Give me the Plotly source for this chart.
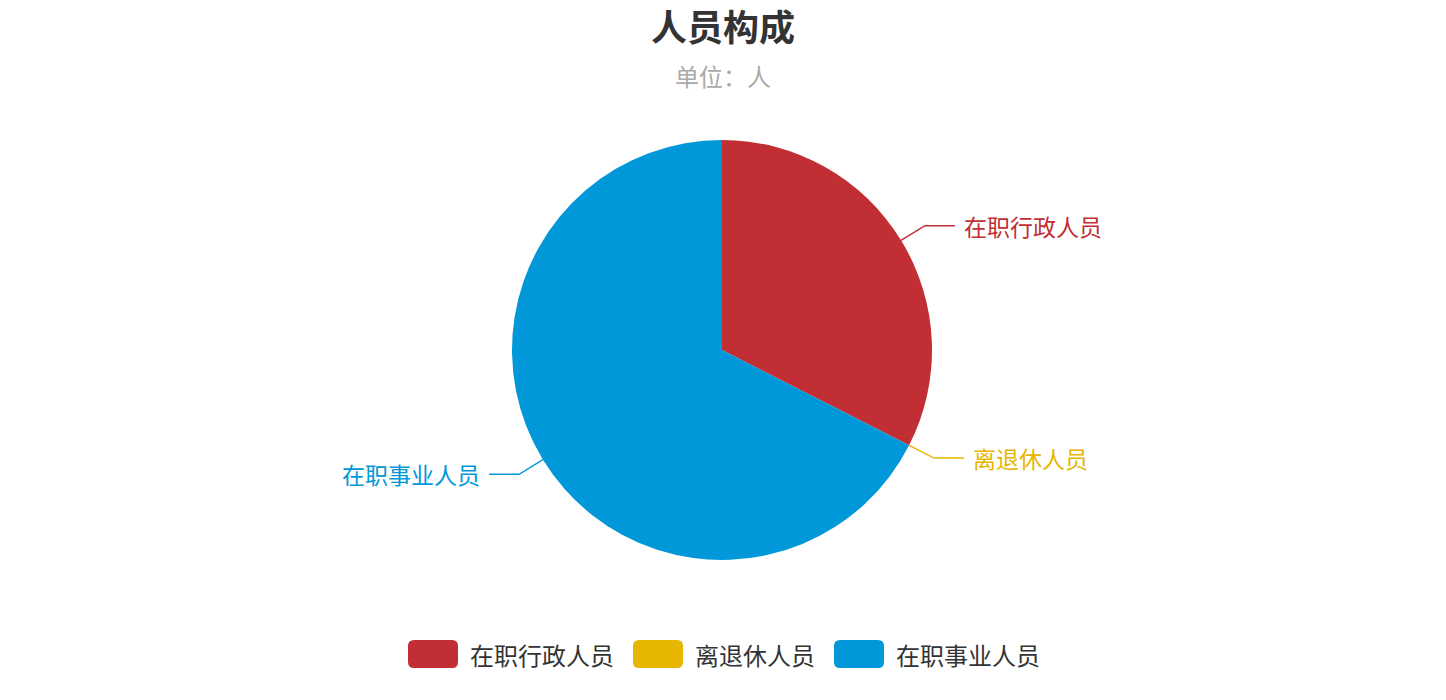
import math
import plotly.graph_objects as go

# --- données ---
categories = ["在职行政人员", "离退休人员", "在职事业人员"]
values = [13, 0, 27]
colors = ["#c12e34", "#e6b600", "#0098d9"]
title_text = "人员构成"
subtitle_text = "单位：人"

# la page a une marge de 8px : on réduit la figure d'autant
OFF = 8
W, H = 1446 - 2 * OFF, 700 - 2 * OFF
FONT = "Noto Sans CJK SC"
cx, cy, R = 722, 350, 210  # centre et rayon du camembert (px fenêtre)


def px(x):
    return (x - OFF) / W


def py(y):
    return 1 - (y - OFF) / H


fig = go.Figure(go.Pie(
    labels=categories,
    values=values,
    marker=dict(colors=colors, line=dict(width=0)),
    sort=False,
    direction="clockwise",
    rotation=0,
    textinfo="none",
    hoverinfo="label+value+percent",
    showlegend=False,
    domain=dict(x=[px(cx - R), px(cx + R)], y=[py(cy + R), py(cy - R)]),
))

# --- étiquettes avec lignes de rappel (à la ECharts) ---
total = sum(values)
shapes = []
annotations = []
start = 0.0
for name, v, c in zip(categories, values, colors):
    mid = (start + v / 2) / total * 2 * math.pi
    start += v
    sx, sy = math.sin(mid), -math.cos(mid)
    x0, y0 = cx + R * sx, cy + R * sy
    x1, y1 = cx + (R + 28) * sx, cy + (R + 28) * sy
    side = 1 if sx >= 0 else -1
    x2 = x1 + 30 * side
    shapes.append(dict(
        type="path", xref="paper", yref="paper",
        path=f"M {px(x0)},{py(y0)} L {px(x1)},{py(y1)} L {px(x2)},{py(y1)}",
        line=dict(color=c, width=1.5),
    ))
    annotations.append(dict(
        x=px(x2 + 7 * side), y=py(y1), xref="paper", yref="paper",
        text=name, showarrow=False,
        xanchor="left" if side > 0 else "right", yanchor="middle",
        font=dict(family=FONT, size=23, color=c),
    ))

# --- légende faite main (rectangles arrondis) ---
fs = 24
icon_w, icon_h, rad = 50, 28, 6
widths = [icon_w + 10 + len(n) * fs for n in categories]
gap = 21
lx = 1446 / 2 - (sum(widths) + gap * (len(widths) - 1)) / 2
ly = 654
for name, c, w in zip(categories, colors, widths):
    a, b = lx, lx + icon_w
    t, d = ly - icon_h / 2, ly + icon_h / 2
    path = (f"M {px(a + rad)},{py(t)} L {px(b - rad)},{py(t)} "
            f"Q {px(b)},{py(t)} {px(b)},{py(t + rad)} L {px(b)},{py(d - rad)} "
            f"Q {px(b)},{py(d)} {px(b - rad)},{py(d)} L {px(a + rad)},{py(d)} "
            f"Q {px(a)},{py(d)} {px(a)},{py(d - rad)} L {px(a)},{py(t + rad)} "
            f"Q {px(a)},{py(t)} {px(a + rad)},{py(t)} Z")
    shapes.append(dict(type="path", xref="paper", yref="paper", path=path,
                       fillcolor=c, line=dict(width=0)))
    annotations.append(dict(
        x=px(b + 10), y=py(ly), xref="paper", yref="paper", text=name,
        showarrow=False, xanchor="left", yanchor="middle",
        font=dict(family=FONT, size=fs, color="#333333"),
    ))
    lx += w + gap

# --- titres ---
annotations.append(dict(
    x=px(723), y=py(25), xref="paper", yref="paper", text=title_text,
    showarrow=False, xanchor="center", yanchor="middle",
    font=dict(family=FONT, size=36, color="#333333", weight="bold"),
))
annotations.append(dict(
    x=px(723), y=py(75), xref="paper", yref="paper", text=subtitle_text,
    showarrow=False, xanchor="center", yanchor="middle",
    font=dict(family=FONT, size=24, color="#aaaaaa"),
))

fig.update_layout(
    width=W, height=H,
    margin=dict(l=0, r=0, t=0, b=0),
    paper_bgcolor="white", plot_bgcolor="white",
    font=dict(family=FONT),
    shapes=shapes,
    annotations=annotations,
)

fig.write_html("out.html")
